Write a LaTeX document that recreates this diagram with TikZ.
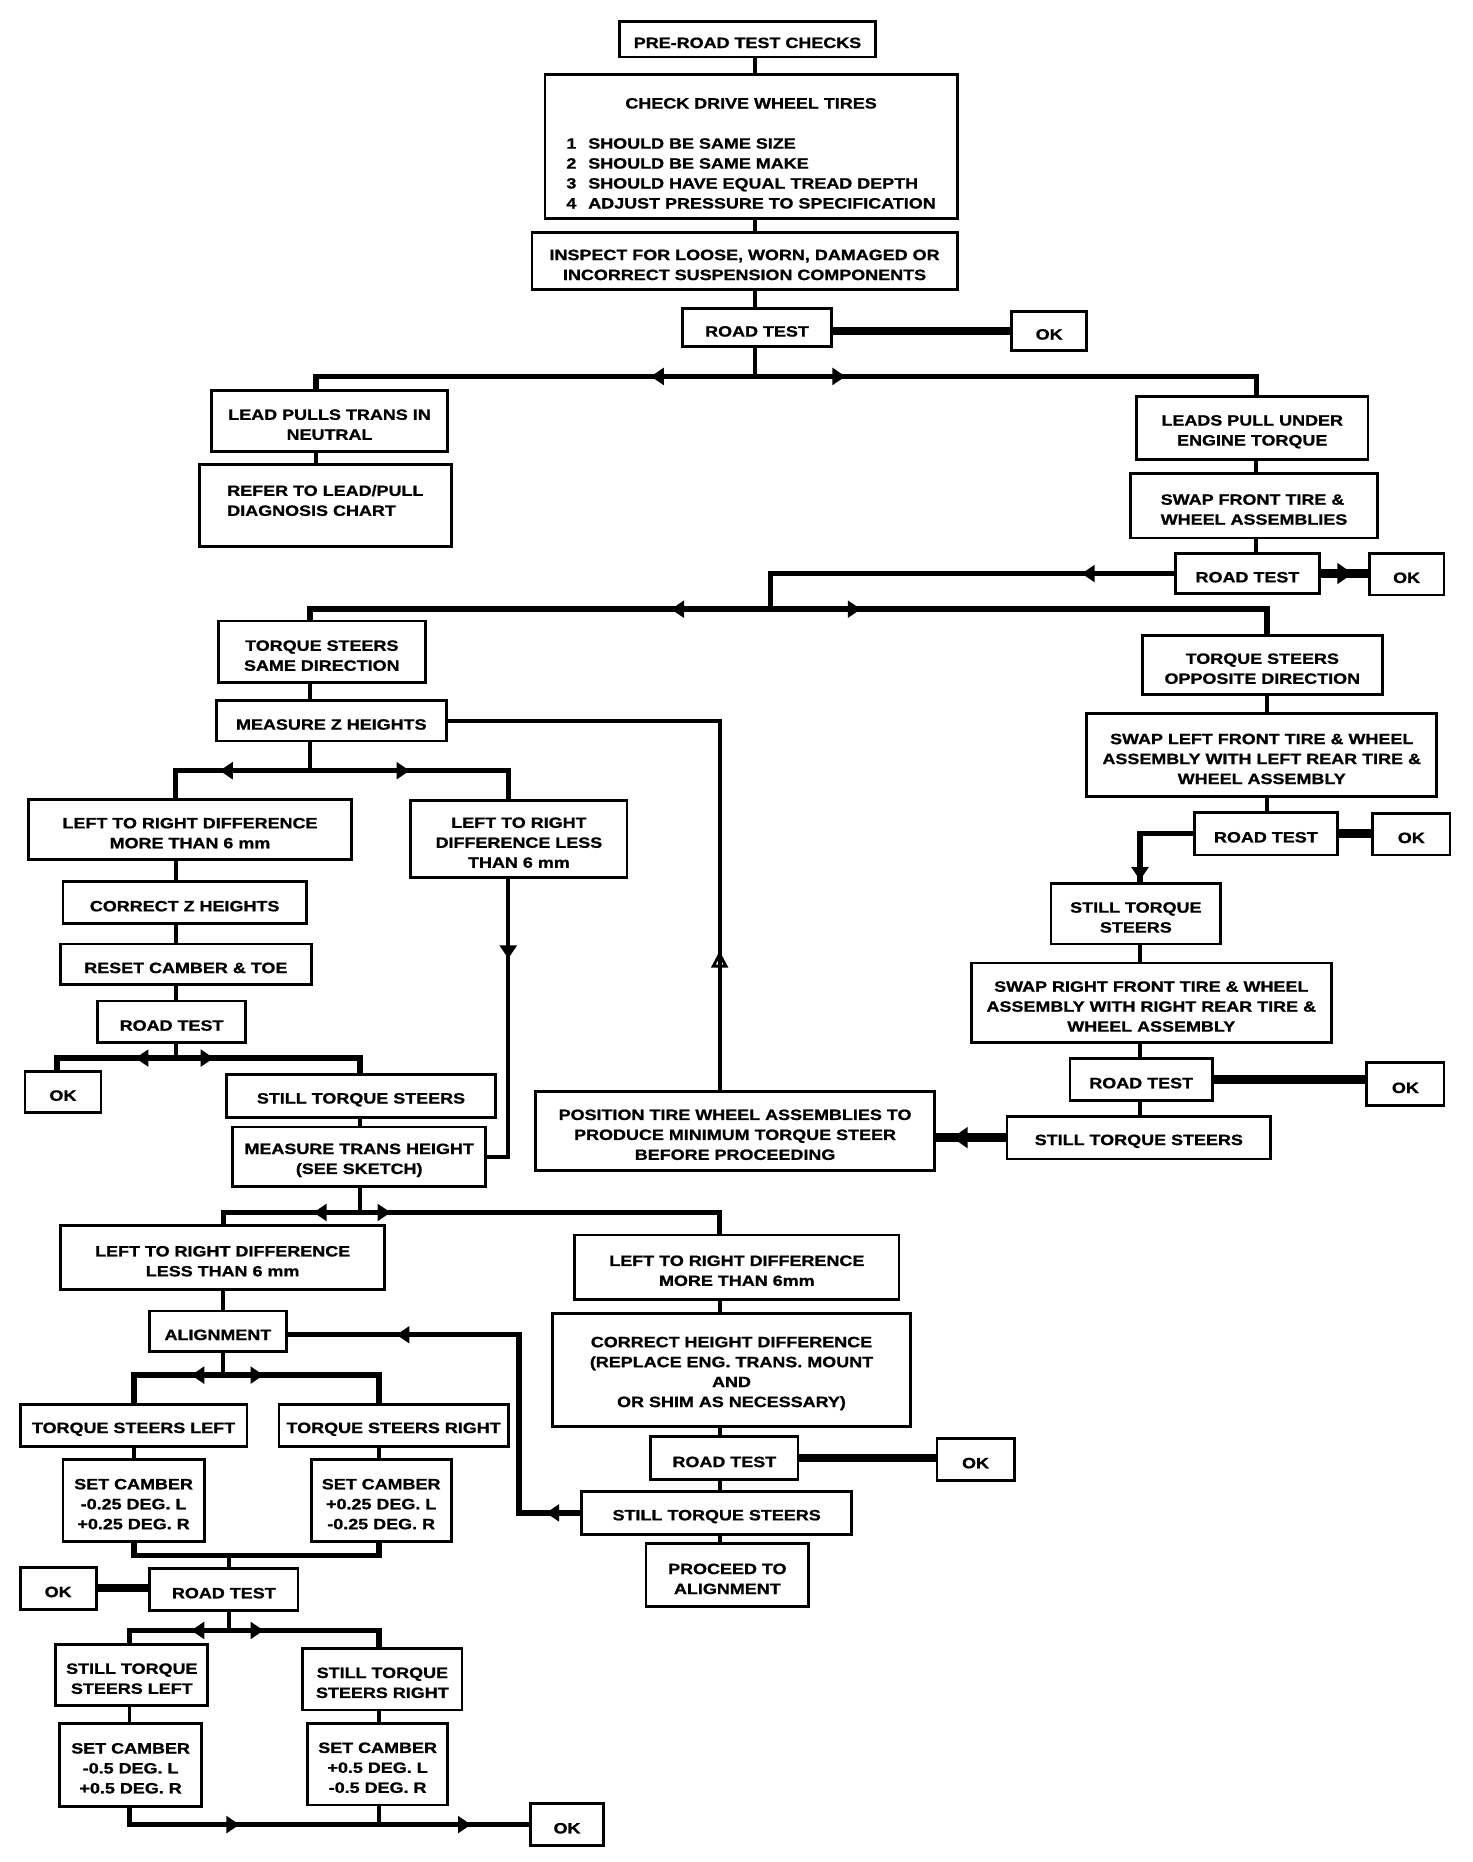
\documentclass[tikz,border=0pt]{standalone}
\usepackage{fontspec}
\newfontfamily\boxfont{Liberation Sans}[FakeStretch=1.2,FakeBold=1]
\usetikzlibrary{arrows.meta,decorations.markings}
\newcommand\bxf{\boxfont\bfseries\fontsize{12.6}{16.8}\selectfont}
\newcommand\mkbox[7][]{\node[box,#1,minimum width={(#5-#3)*1pt},minimum height={(#6-#4)*1pt}] (#2) at ({(#3+#5)/2},{(#4+#6)/2}) {\rule{0pt}{15pt}#7};}
\tikzset{
  box/.style={draw, line width=2.4pt, inner sep=2pt, align=center, font=\bxf},
  ln/.style={line width=3.2pt},
  bar/.style={line width=4.6pt},
  thk/.style={line width=7pt},
  marr/.style={postaction={decorate,decoration={markings,mark=at position #1 with {\arrow{Triangle[length=11pt,width=14pt]}}}}},
  marrb/.style={postaction={decorate,decoration={markings,mark=at position #1 with {\arrow{Triangle[length=13pt,width=17pt]}}}}},
  marro/.style={postaction={decorate,decoration={markings,mark=at position #1 with {\arrow{Triangle[open,length=14pt,width=14pt,line width=2.4pt]}}}}},
}
\begin{document}
\begin{tikzpicture}[x=1pt,y=-1pt]
\fill[white] (0,0) rectangle (1240,1568);
\useasboundingbox (0,0) rectangle (1240,1568);

% ---------- boxes ----------
\mkbox{pre}{522}{18}{737}{48}{PRE-ROAD TEST CHECKS}
\mkbox{tires}{459}{63}{806}{184}{\rule{0pt}{25pt}CHECK DRIVE WHEEL TIRES\\[17pt]\begin{tabular}[t]{@{}l@{\hspace{10pt}}l@{}}1&SHOULD BE SAME SIZE\\2&SHOULD BE SAME MAKE\\3&SHOULD HAVE EQUAL TREAD DEPTH\\4&ADJUST PRESSURE TO SPECIFICATION\end{tabular}}
\mkbox{insp}{448}{196}{806}{244}{INSPECT FOR LOOSE, WORN, DAMAGED OR\\INCORRECT SUSPENSION COMPONENTS}
\mkbox{rt1}{575}{260}{700}{292}{ROAD TEST}
\mkbox{ok1}{852}{262}{915}{295}{OK}
\mkbox{lead}{178}{329}{377}{380}{LEAD PULLS TRANS IN\\NEUTRAL}
\mkbox[align=left]{refer}{168}{391}{380}{460}{REFER TO LEAD/PULL\\DIAGNOSIS CHART\rule[-14pt]{0pt}{0pt}}
\mkbox{leadsE}{957}{334}{1152}{387}{LEADS PULL UNDER\\ENGINE TORQUE}
\mkbox[align=left]{swapF}{952}{399}{1160}{453}{SWAP FRONT TIRE \&\\WHEEL ASSEMBLIES}
\mkbox{rt2}{990}{466}{1111}{500}{ROAD TEST}
\mkbox{ok2}{1153}{466}{1216}{501}{OK}
\mkbox{tsSame}{184}{523}{358}{575}{TORQUE STEERS\\SAME DIRECTION}
\mkbox{mz}{182}{590}{376}{624}{MEASURE Z HEIGHTS}
\mkbox{more6}{24}{673}{296}{724}{LEFT TO RIGHT DIFFERENCE\\MORE THAN 6 mm}
\mkbox{less6}{346}{674}{528}{739}{LEFT TO RIGHT\\DIFFERENCE LESS\\THAN 6 mm}
\mkbox{czh}{53}{742}{258}{778}{CORRECT Z HEIGHTS}
\mkbox{rct}{51}{795}{262}{829}{RESET CAMBER \& TOE}
\mkbox{rt3}{82}{843}{207}{878}{ROAD TEST}
\mkbox{ok3}{21}{902}{85}{937}{OK}
\mkbox{sts1}{191}{905}{417}{941}{STILL TORQUE STEERS}
\mkbox{mth}{196}{949}{409}{999}{MEASURE TRANS HEIGHT\\(SEE SKETCH)}
\mkbox{tsOpp}{962}{535}{1164}{585}{TORQUE STEERS\\OPPOSITE DIRECTION}
\mkbox{swapL}{915}{601}{1210}{671}{SWAP LEFT FRONT TIRE \& WHEEL\\ASSEMBLY WITH LEFT REAR TIRE \&\\WHEEL ASSEMBLY}
\mkbox{rt4}{1006}{684}{1126}{720}{ROAD TEST}
\mkbox{ok4}{1156}{685}{1221}{720}{OK}
\mkbox{stillTS}{885}{744}{1028}{795}{STILL TORQUE\\STEERS}
\mkbox{swapR}{818}{811}{1121}{878}{SWAP RIGHT FRONT TIRE \& WHEEL\\ASSEMBLY WITH RIGHT REAR TIRE \&\\WHEEL ASSEMBLY}
\mkbox{rt5}{901}{891}{1021}{927}{ROAD TEST}
\mkbox{ok5}{1151}{895}{1216}{931}{OK}
\mkbox{sts2}{848}{940}{1070}{976}{STILL TORQUE STEERS}
\mkbox{pos}{451}{919}{787}{986}{POSITION TIRE WHEEL ASSEMBLIES TO\\PRODUCE MINIMUM TORQUE STEER\\BEFORE PROCEEDING}
\mkbox{less6b}{51}{1032}{324}{1086}{LEFT TO RIGHT DIFFERENCE\\LESS THAN 6 mm}
\mkbox{more6b}{484}{1040}{757}{1094}{LEFT TO RIGHT DIFFERENCE\\MORE THAN 6mm}
\mkbox{chd}{465}{1106}{767}{1201}{CORRECT HEIGHT DIFFERENCE\\(REPLACE ENG. TRANS. MOUNT\\AND\\OR SHIM AS NECESSARY)}
\mkbox{rt6}{548}{1210}{672}{1246}{ROAD TEST}
\mkbox{ok6}{789}{1211}{854}{1247}{OK}
\mkbox{sts3}{490}{1256}{717}{1292}{STILL TORQUE STEERS}
\mkbox{proc}{544}{1300}{681}{1353}{PROCEED TO\\ALIGNMENT}
\mkbox{algn}{126}{1104}{241}{1138}{ALIGNMENT}
\mkbox{tsL}{17}{1183}{208}{1218}{TORQUE STEERS LEFT}
\mkbox{tsR}{235}{1183}{428}{1218}{TORQUE STEERS RIGHT}
\mkbox{sc1}{53}{1229}{172}{1298}{SET CAMBER\\-0.25 DEG. L\\+0.25 DEG. R}
\mkbox{sc2}{262}{1229}{380}{1298}{SET CAMBER\\+0.25 DEG. L\\-0.25 DEG. R}
\mkbox{ok7}{17}{1320}{81}{1355}{OK}
\mkbox{rt7}{126}{1321}{251}{1356}{ROAD TEST}
\mkbox{stsL}{47}{1385}{175}{1436}{STILL TORQUE\\STEERS LEFT}
\mkbox{stsR}{255}{1388}{389}{1440}{STILL TORQUE\\STEERS RIGHT}
\mkbox{sc3}{50}{1451}{170}{1521}{SET CAMBER\\-0.5 DEG. L\\+0.5 DEG. R}
\mkbox{sc4}{259}{1451}{377}{1520}{SET CAMBER\\+0.5 DEG. L\\-0.5 DEG. R}
\mkbox{ok8}{447}{1519}{508}{1554}{OK}

% ---------- columns and junctions ----------
\coordinate (c636) at (636,0);
\coordinate (c266) at (266,0);
\coordinate (c1058) at (1058,0);
\coordinate (c261) at (261,0);
\coordinate (c1067) at (1067,0);
\coordinate (c606) at (606,0);
\coordinate (c148) at (148,0);
\coordinate (c428) at (428,0);
\coordinate (c48) at (48,0);
\coordinate (c303) at (303,0);
\coordinate (c188) at (188,0);
\coordinate (c113) at (113,0);
\coordinate (c319) at (319,0);
\coordinate (c193) at (193,0);
\coordinate (c109) at (109,0);
\coordinate (c960) at (960,0);
\coordinate (j1) at (636,317);
\coordinate (j2) at (649,513);
\coordinate (j3) at (261,649);
\coordinate (j4) at (148,891);
\coordinate (j5) at (303,1021);
\coordinate (j6) at (437,1124);
\coordinate (j7) at (188,1158);
\coordinate (j8) at (193,1310);
\coordinate (j9) at (193,1373);

% ---------- top ----------
\draw[ln] (pre.south -| c636) -- (tires.north -| c636);
\draw[ln] (tires.south -| c636) -- (insp.north -| c636);
\draw[ln] (insp.south -| c636) -- (rt1.north -| c636);
\draw[thk] (rt1.east |- ok1.west) -- (ok1.west);
\draw[ln] (rt1.south -| c636) -- (j1);
\draw[bar,marr=88pt] (j1) -| (lead.north -| c266);
\draw[bar,marr=76pt] (j1) -| (leadsE.north -| c1058);
\draw[ln] (lead.south -| c266) -- (refer.north -| c266);
\draw[ln] (leadsE.south -| c1058) -- (swapF.north -| c1058);
\draw[ln] (swapF.south -| c1058) -- (rt2.north -| c1058);
\draw[thk,marrb=27pt] (rt2.east) -- (rt2.east -| ok2.west);
\draw[bar,marr=78pt] (rt2.west) -| (j2);
\draw[bar,marr=84pt] (j2) -| (tsSame.north -| c261);
\draw[bar,marr=76pt] (j2) -| (tsOpp.north -| c1067);

% ---------- left branch ----------
\draw[ln] (tsSame.south -| c261) -- (mz.north -| c261);
\draw[ln,marro=117pt] (pos.north -| c606) |- (mz.east);
\draw[ln] (mz.south -| c261) -- (j3);
\draw[bar,marr=76pt] (j3) -| (more6.north -| c148);
\draw[bar,marr=84pt] (j3) -| (less6.north -| c428);
\draw[ln,marr=67pt] (less6.south -| c428) |- (mth.east);
\draw[ln] (more6.south -| c148) -- (czh.north -| c148);
\draw[ln] (czh.south -| c148) -- (rct.north -| c148);
\draw[ln] (rct.south -| c148) -- (rt3.north -| c148);
\draw[ln] (rt3.south -| c148) -- (j4);
\draw[bar,marr=34pt] (j4) -| (ok3.north -| c48);
\draw[bar,marr=32pt] (j4) -| (sts1.north -| c303);
\draw[ln] (sts1.south -| c303) -- (mth.north -| c303);
\draw[ln] (mth.south -| c303) -- (j5);
\draw[bar,marr=39pt] (j5) -| (less6b.north -| c188);
\draw[bar,marr=26pt] (j5) -| (more6b.north -| c606);

% ---------- lower middle ----------
\draw[ln] (more6b.south -| c606) -- (chd.north -| c606);
\draw[ln] (chd.south -| c606) -- (rt6.north -| c606);
\draw[thk] (rt6.east) -- (rt6.east -| ok6.west);
\draw[ln] (rt6.south -| c606) -- (sts3.north -| c606);
\draw[ln] (sts3.south -| c606) -- (proc.north -| c606);
\draw[bar,marr=29pt,marr=305pt] (sts3.west) -| (j6) -- (j6 -| algn.east);

% ---------- lower left ----------
\draw[ln] (less6b.south -| c188) -- (algn.north -| c188);
\draw[ln] (algn.south -| c188) -- (j7);
\draw[bar,marr=27pt] (j7) -| (tsL.north -| c113);
\draw[bar,marr=34pt] (j7) -| (tsR.north -| c319);
\draw[ln] (tsL.south -| c113) -- (sc1.north -| c113);
\draw[ln] (tsR.south -| c319) -- (sc2.north -| c319);
\draw[bar] (sc1.south -| c113) |- (j8) -| (sc2.south -| c319);
\draw[ln] (j8) -- (rt7.north -| c193);
\draw[thk] (ok7.east) -- (ok7.east -| rt7.west);
\draw[ln] (rt7.south -| c193) -- (j9);
\draw[bar,marr=32pt] (j9) -| (stsL.north -| c109);
\draw[bar,marr=29pt] (j9) -| (stsR.north -| c319);
\draw[ln] (stsL.south -| c109) -- (sc3.north -| c109);
\draw[ln] (stsR.south -| c319) -- (sc4.north -| c319);
\draw[bar,marr=107pt,marr=302pt] (sc3.south -| c109) |- (ok8.west);
\draw[ln] (sc4.south -| c319) -- (c319 |- ok8.west);

% ---------- right branch ----------
\draw[ln] (tsOpp.south -| c1067) -- (swapL.north -| c1067);
\draw[ln] (swapL.south -| c1067) -- (rt4.north -| c1067);
\draw[thk] (rt4.east) -- (rt4.east -| ok4.west);
\draw[bar,marr=84pt] (rt4.west) -| (stillTS.north -| c960);
\draw[ln] (stillTS.south -| c960) -- (swapR.north -| c960);
\draw[ln] (swapR.south -| c960) -- (rt5.north -| c960);
\draw[thk] (rt5.east) -- (rt5.east -| ok5.west);
\draw[ln] (rt5.south -| c960) -- (sts2.north -| c960);
\draw[thk,marrb=45pt] (sts2.west) -- (sts2.west -| pos.east);
\end{tikzpicture}
\end{document}
